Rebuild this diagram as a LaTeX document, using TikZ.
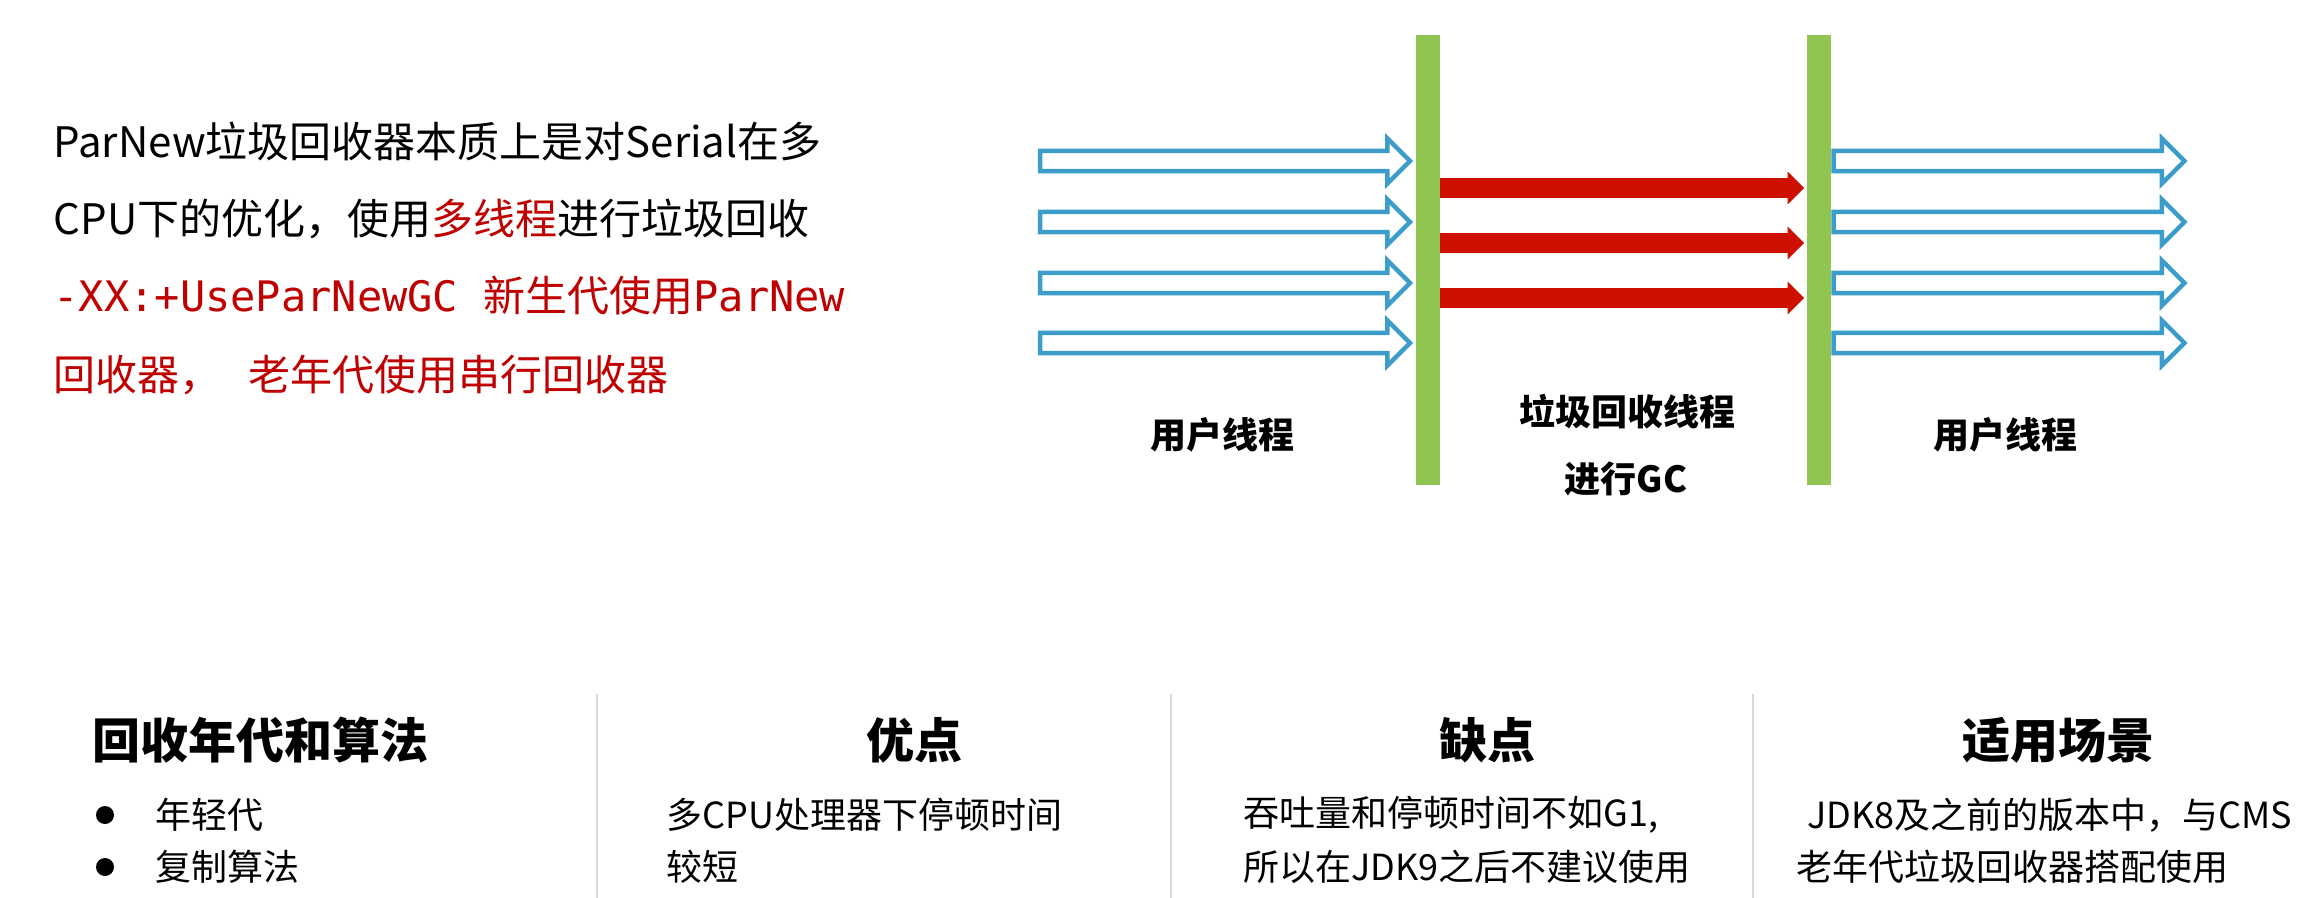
\documentclass[tikz,border=0pt]{standalone}
\usepackage{fontspec}
\setmainfont{Noto Sans CJK SC}
\setmonofont{DejaVu Sans Mono}
\usepackage{tikz}
\usetikzlibrary{arrows.meta, positioning, calc, shapes.arrows}
\usepackage{xcolor}

\definecolor{barGreen}{RGB}{143,197,80}
\definecolor{threadBlue}{RGB}{60,157,202}
\definecolor{gcRed}{RGB}{206,16,0}
\definecolor{noteRed}{RGB}{192,0,0}
\definecolor{ruleGray}{RGB}{217,217,217}

\tikzset{
  stwbar/.style={fill=barGreen, minimum width=0.24cm, minimum height=4.5cm, inner sep=0pt, outer sep=0pt},
  userthread/.style={single arrow, draw=threadBlue, fill=white, line width=0.045cm, inner sep=0.078cm,
    single arrow head extend=0.125cm, minimum width=0pt, minimum height=#1, outer sep=0pt, anchor=tail},
  gcthread/.style={single arrow, fill=gcRed, inner sep=0.092cm,
    single arrow head extend=0.065cm, minimum width=0pt, minimum height=#1, outer sep=0pt, anchor=tail},
  phase/.style={inner sep=0pt, font=\fontsize{10.24pt}{12pt}\selectfont\bfseries},
  intro/.style={anchor=base west, inner sep=0pt, font=\fontsize{11.95pt}{14pt}\selectfont},
  colhead/.style={inner sep=0pt, font=\fontsize{13.66pt}{16pt}\selectfont\bfseries},
  colbody/.style={anchor=west, inner sep=0pt, font=\fontsize{10.24pt}{12pt}\selectfont},
}

\begin{document}
\begin{tikzpicture}
    \fill[white] (0,0) rectangle (23.24,-8.98);
    \useasboundingbox (0,0) rectangle (23.24,-8.98);

    % Intro text
    \node[intro] (l1) at (0.53,-1.58) {ParNew垃圾回收器本质上是对Serial在多};
    \node[intro] (l2) at (0.53,-2.35) {CPU下的优化，使用\textcolor{noteRed}{多线程}进行垃圾回收};
    \node[intro, text=noteRed] (l3) at (0.53,-3.11) {\texttt{-XX:+UseParNewGC }新生代使用\texttt{ParNew}};
    \node[intro, text=noteRed] (l4) at (0.53,-3.90) {回收器，\hspace{0.65em}老年代使用串行回收器};

    % User threads before the pause
    \foreach \y [count=\i] in {-1.61,-2.22,-2.83,-3.43}
        \node[userthread=3.70cm] (ua\i) at (10.40,\y) {};

    % Safepoint bars
    \node[stwbar] (bar1) at (14.28,-2.60) {};
    \node[stwbar] (bar2) at (18.19,-2.60) {};

    % GC threads
    \foreach \y [count=\i] in {-1.88,-2.43,-2.98}
        \node[gcthread=3.64cm] (gc\i) at (bar1.east |- 0,\y) {};

    % User threads after the pause
    \foreach \y [count=\i] in {-1.61,-2.22,-2.83,-3.43}
        \node[userthread=3.51cm] (ub\i) at (18.335,\y) {};

    % Labels
    \node[phase] (userL) at (12.22,-4.35) {用户线程};
    \node[phase] (gcL) at (16.27,-4.12) {垃圾回收线程};
    \node[phase] (gcL2) at (16.26,-4.79) {进行GC};
    \node[phase] (userR) at (20.05,-4.35) {用户线程};

    % Column rules
    \foreach \x in {5.97,11.71,17.53}
        \draw[ruleGray, line width=0.02cm] (\x,-6.94) -- (\x,-8.98);

    % Column heads
    \node[colhead, anchor=west] (h1) at (0.92,-7.40) {回收年代和算法};
    \node[colhead] (h2) at (9.14,-7.40) {优点};
    \node[colhead] (h3) at (14.87,-7.40) {缺点};
    \node[colhead] (h4) at (20.58,-7.40) {适用场景};

    % Column bodies
    \fill (1.05,-8.15) circle (0.09);
    \fill (1.05,-8.67) circle (0.09);
    \node[colbody] (b1) at (1.55,-8.15) {年轻代};
    \node[colbody] (b2) at (1.55,-8.67) {复制算法};
    \node[colbody] (p1) at (6.66,-8.15) {多CPU处理器下停顿时间};
    \node[colbody] (p2) at (6.66,-8.67) {较短};
    \node[colbody] (c1) at (12.43,-8.15) {吞吐量和停顿时间不如G1,};
    \node[colbody] (c2) at (12.43,-8.67) {所以在JDK9之后不建议使用};
    \node[colbody] (s1) at (17.96,-8.15) {\hspace{0.3em}JDK8及之前的版本中，与CMS};
    \node[colbody] (s2) at (17.96,-8.67) {老年代垃圾回收器搭配使用};
\end{tikzpicture}
\end{document}
